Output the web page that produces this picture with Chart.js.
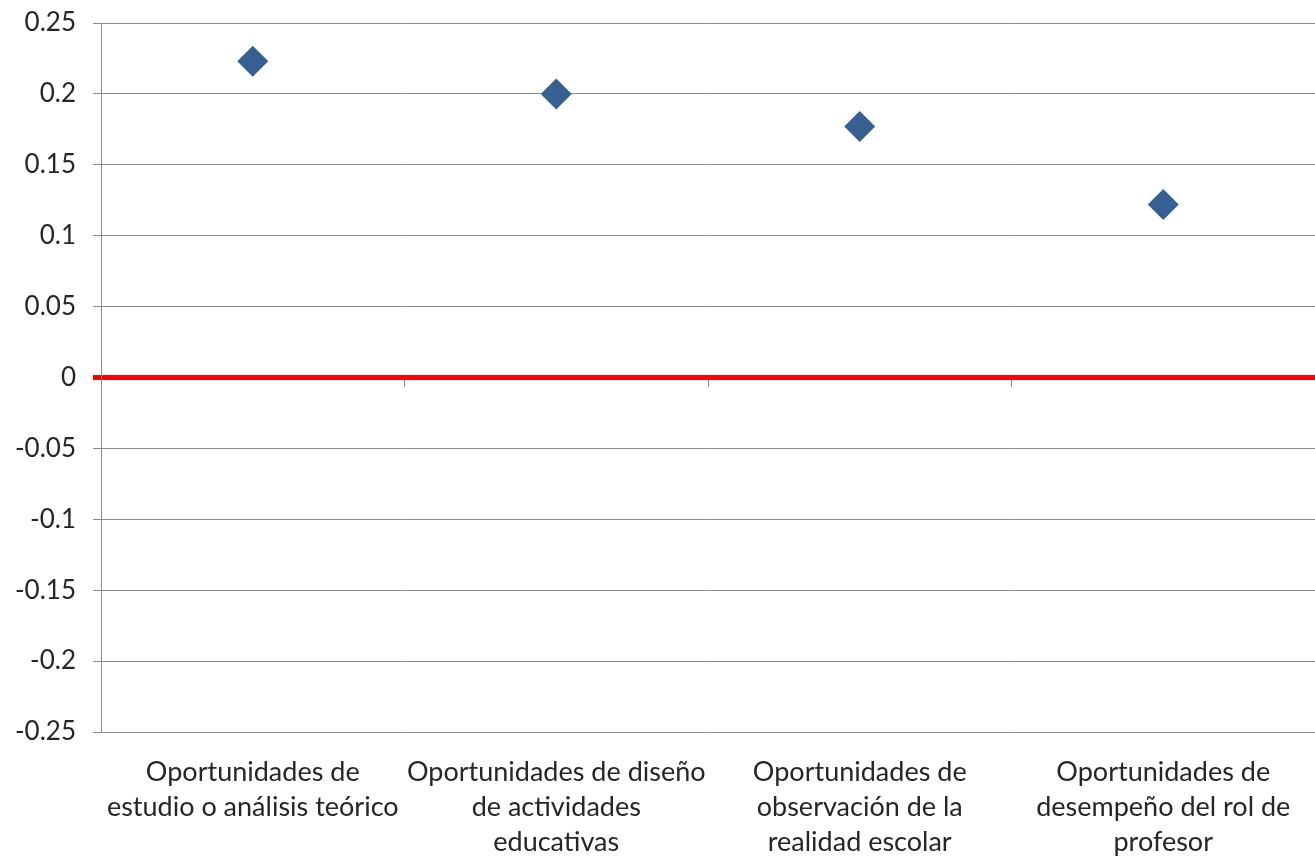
<!DOCTYPE html>
<html>
<head>
<meta charset="utf-8">
<script src="https://cdn.jsdelivr.net/npm/chart.js@4/dist/chart.umd.min.js"></script>
<style>
  html, body { margin: 0; padding: 0; background: #fff; overflow: hidden; }
  canvas { display: block; }
</style>
</head>
<body>
<canvas id="chart" width="1315" height="858"></canvas>
<script>
// categories (split over lines like the original axis)
const categories = [
	["Oportunidades de", "estudio o análisis teórico"],
	["Oportunidades de diseño", "de actividades", "educativas"],
	["Oportunidades de", "observación de la", "realidad escolar"],
	["Oportunidades de", "desempeño del rol de", "profesor"]
];
// values
const values = [0.223, 0.2, 0.177, 0.122];
const yMin = -0.25;
const yMax = 0.25;
const yStep = 0.05;

const gridGray = "#8c8c8c";
const textColor = "#262626";

const context = document.getElementById("chart").getContext("2d");
const chart = new Chart(context, {
	type: "line",
	data: {
		labels: categories,
		datasets: [{
			data: values,
			showLine: false,
			pointStyle: "rectRot",
			pointRadius: 15.5,
			pointHoverRadius: 15.5,
			pointBackgroundColor: "#376092",
			pointBorderWidth: 0,
			xAxisID: "x"
		}]
	},
	options: {
		responsive: false,
		animation: false,
		layout: { autoPadding: false, padding: { top: 23, right: -5, left: 0, bottom: 0 } },
		plugins: {
			legend: { display: false },
			tooltip: { enabled: false }
		},
		scales: {
			x: {
				type: "category",
				position: "bottom",
				offset: true,
				grid: { display: false },
				border: { display: false },
				ticks: {
					color: textColor,
					padding: 15,
					maxRotation: 0,
					autoSkip: false,
					font: { family: "Lato", size: 27, lineHeight: "35px" }
				},
				afterFit: s => {
					s.height = 126;
					s.paddingLeft = 0;
					s.paddingRight = 0;
				}
			},
			x2: {
				type: "category",
				position: { y: 0 },
				offset: true,
				grid: {
					offset: true,
					drawOnChartArea: false,
					drawTicks: true,
					tickLength: 9,
					color: gridGray
				},
				border: { display: false },
				ticks: { display: false }
			},
			y: {
				min: yMin,
				max: yMax,
				border: { display: true, color: gridGray, width: 1 },
				grid: {
					tickLength: 8,
					color: c => c.tick && c.tick.value === 0 ? "#ff0000" : gridGray,
					lineWidth: c => c.tick && c.tick.value === 0 ? 5 : 1
				},
				ticks: {
					stepSize: yStep,
					color: textColor,
					padding: 17,
					font: { family: "Lato", size: 26 },
					callback: v => String(parseFloat(v.toFixed(2)))
				},
				afterFit: s => {
					s.width = 101;
					s.paddingTop = 0;
					s.paddingBottom = 0;
				}
			}
		}
	}
});
</script>
</body>
</html>
